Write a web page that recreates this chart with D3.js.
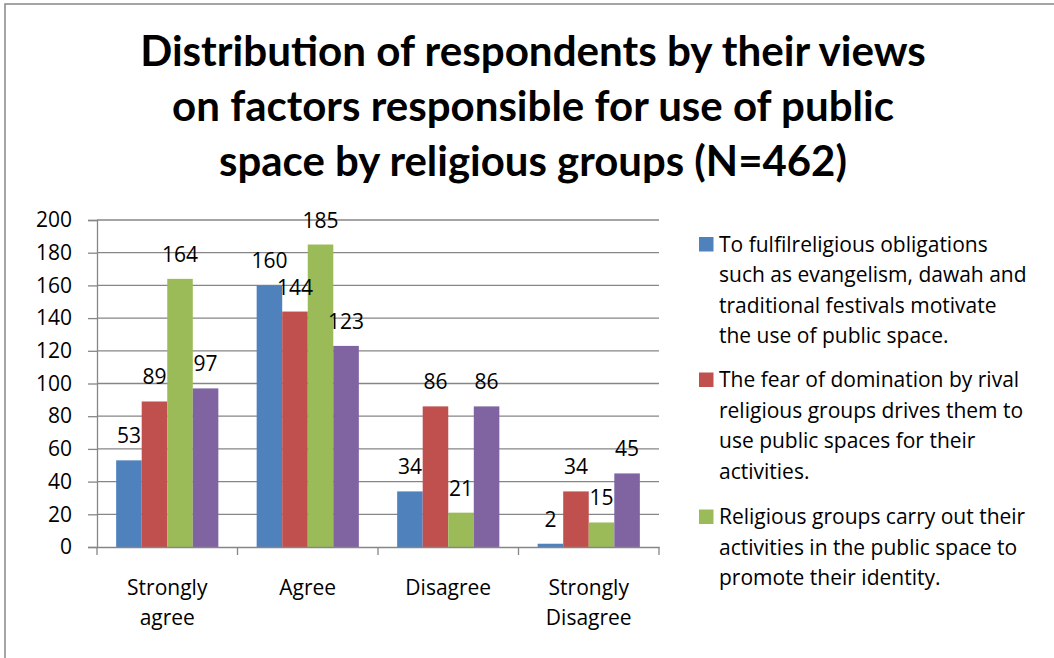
<!DOCTYPE html>
<html><head><meta charset="utf-8">
<script src="https://cdn.jsdelivr.net/npm/d3@7"></script>
<style>body{margin:0;background:#fff}svg{display:block}</style>
</head><body><svg id="c" width="1054" height="658"></svg>
<script>
const categories = [["Strongly","agree"],["Agree"],["Disagree"],["Strongly","Disagree"]];
const catKeys = ["Strongly agree","Agree","Disagree","Strongly Disagree"];
const seriesBlue = [53,160,34,2];
const seriesRed = [89,144,86,34];
const seriesGreen = [164,185,21,15];
const seriesPurple = [97,123,86,45];
const yTicks = [0,20,40,60,80,100,120,140,160,180,200];
const titleLines = ["Distribution of respondents by their views","on factors responsible for use of public","space by religious groups (N=462)"];
const legendEntries = [
  ["To fulfilreligious obligations","such as evangelism, dawah and","traditional festivals motivate","the use of public space."],
  ["The fear of domination by rival","religious groups drives them to","use public spaces for their","activities."],
  ["Religious groups carry out their","activities in the public space to","promote their identity."]
];
const colors = ["#4F81BD","#C0504D","#9BBB59","#8064A2"];
const allSeries = [seriesBlue,seriesRed,seriesGreen,seriesPurple];

const svg = d3.select("#c");
const TFONT = "Lato, 'Open Sans', sans-serif";
const FONT = "'Open Sans', Lato, sans-serif";
const FS = 21;

// frame
svg.append("rect").attr("x",5).attr("y",4).attr("width",1100).attr("height",700)
  .attr("fill","#fff").attr("stroke","#868686").attr("stroke-width",1.5);

// title
const titleBaselines = [66,121,176];
const titleWidths = [786,722,628];
titleLines.forEach((t,i)=>{
  const el = svg.append("text").attr("x",533).attr("y",titleBaselines[i])
    .attr("text-anchor","middle").attr("font-family",TFONT).attr("font-weight","bold")
    .attr("font-size",36).attr("fill","#000").text(t);
  const w = el.node().getComputedTextLength();
  el.attr("font-size",36*titleWidths[i]/w);
});

const x0 = d3.scaleBand().domain(catKeys).range([97,659]).paddingInner(0).paddingOuter(0);
const y = d3.scaleLinear().domain([0,200]).range([547,220]);
const x1 = d3.scaleBand().domain(d3.range(4)).range([0,x0.bandwidth()]).paddingInner(0).paddingOuter(0.75);

// gridlines
svg.append("g").selectAll("line").data(yTicks.filter(d=>d>0)).join("line")
  .attr("x1",97).attr("x2",659).attr("y1",d=>y(d)).attr("y2",d=>y(d))
  .attr("stroke","#868686").attr("stroke-width",1.3);

// y axis
const yAxis = d3.axisLeft(y).tickValues(yTicks).tickSize(9).tickPadding(16);
const gy = svg.append("g").attr("transform","translate(97,0)").call(yAxis);
gy.select(".domain").attr("stroke","#868686").attr("stroke-width",1.3);
gy.selectAll(".tick line").attr("stroke","#868686").attr("stroke-width",1.3);
gy.selectAll(".tick text").attr("font-family",FONT).attr("font-size",FS).attr("fill","#000");

// bars
const groups = svg.append("g").selectAll("g").data(catKeys).join("g")
  .attr("transform",d=>`translate(${x0(d)},0)`);
groups.selectAll("rect").data((d,ci)=>allSeries.map((s,si)=>({si,v:s[ci]}))).join("rect")
  .attr("x",d=>x1(d.si)).attr("width",x1.bandwidth())
  .attr("y",d=>y(d.v)).attr("height",d=>y(0)-y(d.v))
  .attr("fill",d=>colors[d.si]);
groups.selectAll("text").data((d,ci)=>allSeries.map((s,si)=>({si,v:s[ci]}))).join("text")
  .attr("x",d=>x1(d.si)+x1.bandwidth()/2).attr("y",d=>y(d.v)-17)
  .attr("text-anchor","middle").attr("font-family",FONT).attr("font-size",FS).attr("fill","#000")
  .text(d=>d.v);

// x axis
const xAxis = d3.axisBottom(x0).tickSize(0).tickFormat("");
const gx = svg.append("g").attr("transform","translate(0,547)").call(xAxis);
gx.select(".domain").attr("stroke","#868686").attr("stroke-width",1.3);
svg.append("g").selectAll("line").data(catKeys.concat(["end"])).join("line")
  .attr("x1",(d,i)=> i<4 ? x0(d) : 659).attr("x2",(d,i)=> i<4 ? x0(d) : 659)
  .attr("y1",547).attr("y2",555).attr("stroke","#868686").attr("stroke-width",1.3);

// category labels
categories.forEach((lines,i)=>{
  const t = svg.append("text").attr("text-anchor","middle").attr("font-family",FONT)
    .attr("font-size",FS).attr("fill","#000");
  lines.forEach((l,j)=>{
    t.append("tspan").attr("x",x0(catKeys[i])+x0.bandwidth()/2).attr("y",595+j*30).text(l);
  });
});

// legend
const legBase = [251.5,387,524];
legendEntries.forEach((lines,i)=>{
  svg.append("rect").attr("x",699).attr("y",legBase[i]-14.5).attr("width",14.5).attr("height",14.5).attr("fill",colors[i]);
  const t = svg.append("text").attr("font-family",FONT).attr("font-size",FS).attr("fill","#000");
  lines.forEach((l,j)=>{
    t.append("tspan").attr("x",719).attr("y",legBase[i]+j*30.5).text(l);
  });
});
</script></body></html>
